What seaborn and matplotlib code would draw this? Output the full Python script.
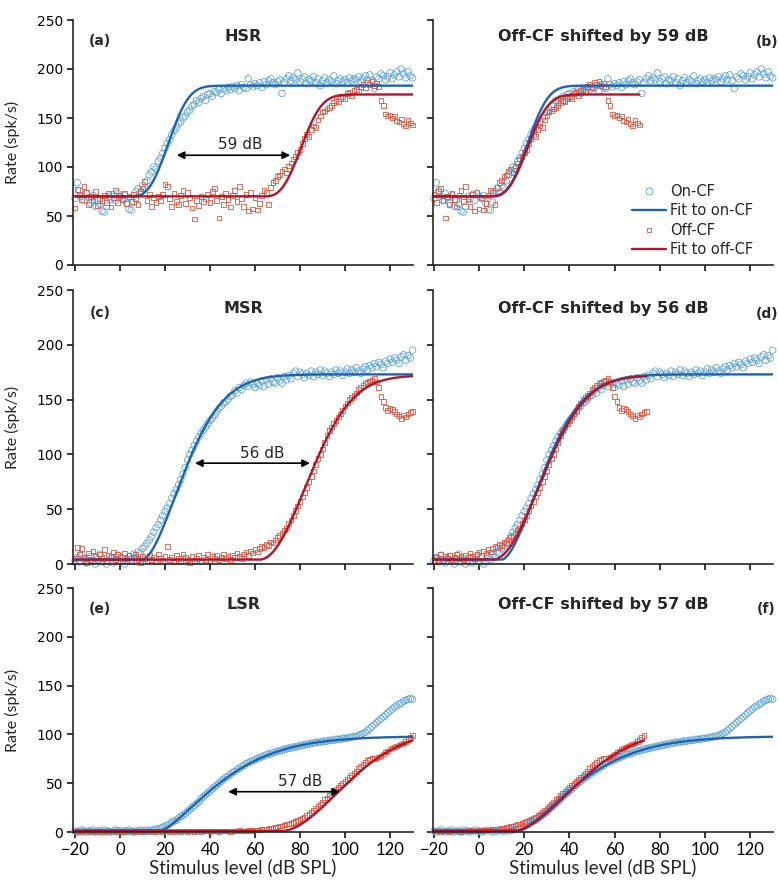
import numpy as np
import pandas as pd
import matplotlib
matplotlib.use("Agg")
import matplotlib.pyplot as plt
import seaborn as sns
from matplotlib.lines import Line2D

# Stimulus levels (dB SPL), 1-dB steps
levels = np.arange(-20, 131)

# ---- measured rate-level data (spikes/s) ----
hsr_on = [
    68, 84, 76, 70, 66, 73, 69, 63, 71, 60,
    66, 62, 55, 54, 60, 70, 67, 72, 66, 73,
    70, 68, 71, 63, 57, 56, 64, 75, 78, 74,
    81, 79, 86, 92, 95, 100, 98, 106, 109, 114,
    119, 124, 128, 133, 137, 140, 144, 146, 150, 152,
    156, 158, 162, 164, 168, 166, 170, 172, 168, 174,
    175, 172, 177, 176, 179, 175, 180, 178, 181, 179,
    182, 180, 183, 178, 184, 181, 180, 190, 184, 182,
    185, 183, 186, 181, 187, 184, 188, 190, 186, 184,
    187, 189, 175, 186, 190, 193, 188, 191, 189, 196,
    187, 190, 192, 185, 189, 188, 192, 186, 190, 183,
    188, 191, 186, 189, 187, 193, 185, 188, 190, 187,
    189, 186, 191, 188, 190, 189, 192, 187, 190, 193,
    189, 194, 188, 180, 192, 190, 195, 193, 189, 192,
    196, 190, 194, 197, 192, 200, 195, 191, 197, 193, 191,
]
hsr_off = [
    58, 77, 72, 67, 80, 74, 62, 70, 66, 75,
    61, 68, 66, 71, 64, 73, 59, 69, 76, 64,
    71, 67, 73, 63, 70, 65, 72, 68, 62, 75,
    78, 85, 66, 72, 60, 69, 64, 70, 66, 72,
    82, 80, 68, 60, 73, 65, 62, 71, 76, 63,
    74, 69, 58, 47, 66, 61, 70, 65, 68, 72,
    64, 75, 78, 66, 48, 70, 62, 73, 67, 59,
    71, 76, 65, 80, 68, 60, 72, 55, 74, 57,
    69, 56, 63, 71, 76, 74, 62, 79, 84, 86,
    90, 92, 96, 98, 94, 101, 104, 108, 111, 115,
    118, 124, 129, 133, 131, 138, 142, 140, 148, 152,
    156, 157, 159, 161, 163, 166, 168, 167, 170, 172,
    170, 175, 176, 173, 178, 179, 177, 182, 184, 181,
    186, 184, 187, 183, 185, 182, 168, 163, 154, 152,
    153, 150, 152, 147, 146, 149, 144, 142, 148, 145, 143,
]
msr_on = [
    3, 6, 2, 8, 4, 1, 5, 7, 3, 0,
    4, 9, 2, 5, 0, 3, 6, 1, 4, 8,
    2, 5, 0, 3, 7, 4, 9, 6, 11, 10,
    14, 16, 19, 22, 25, 29, 33, 36, 40, 44,
    48, 51, 55, 60, 64, 68, 72, 77, 82, 88,
    95, 100, 104, 108, 112, 116, 119, 122, 125, 128,
    131, 133, 136, 139, 142, 144, 147, 148, 150, 153,
    154, 158, 156, 161, 159, 163, 165, 162, 166, 164,
    161, 165, 163, 167, 162, 168, 164, 169, 166, 165,
    170, 167, 165, 171, 168, 172, 169, 174, 176, 171,
    175, 173, 170, 174, 172, 176, 171, 175, 173, 177,
    172, 176, 174, 171, 175, 173, 177, 174, 176, 172,
    175, 178, 174, 177, 175, 179, 176, 174, 178, 180,
    177, 181, 179, 183, 180, 184, 182, 179, 185, 183,
    187, 184, 188, 186, 183, 189, 191, 186, 190, 188, 195,
]
msr_off = [
    5, 15, 9, 14, 6, 1, 10, 4, 12, 7,
    3, 9, 5, 13, 2, 8, 6, 11, 4, 9,
    7, 3, 10, 5, 8, 2, 6, 9, 4, 1,
    7, 5, 3, 8, 4, 6, 2, 9, 5, 3,
    7, 16, 4, 6, 2, 8, 5, 3, 9, 6,
    4, 1, 7, 3, 5, 8, 2, 6, 4, 9,
    3, 7, 5, 8, 4, 6, 9, 5, 7, 4,
    8, 6, 10, 7, 5, 9, 11, 8, 12, 10,
    13, 11, 14, 16, 15, 18, 17, 20, 19, 22,
    24, 26, 28, 31, 33, 37, 40, 44, 49, 53,
    57, 61, 65, 70, 75, 80, 85, 91, 96, 100,
    105, 111, 117, 122, 125, 128, 131, 134, 137, 140,
    144, 147, 150, 152, 154, 156, 159, 161, 163, 165,
    166, 167, 168, 169, 166, 161, 153, 148, 143, 140,
    142, 141, 139, 137, 135, 133, 136, 134, 137, 138, 139,
]
lsr_on = [
    1, 0, 1, 2, 1, 0, 1, 1, 2, 0,
    1, 1, 0, 2, 1, 1, 0, 1, 2, 1,
    1, 0, 1, 1, 2, 1, 0, 1, 1, 2,
    1, 1, 2, 1, 2, 2, 3, 3, 4, 5,
    6, 7, 8, 10, 11, 12, 14, 16, 17, 19,
    21, 23, 25, 27, 29, 31, 34, 36, 38, 40,
    42, 44, 46, 48, 50, 52, 54, 56, 57, 59,
    61, 62, 64, 65, 67, 68, 70, 71, 72, 73,
    74, 75, 76, 77, 78, 79, 80, 80, 81, 82,
    83, 83, 84, 85, 85, 86, 86, 87, 87, 88,
    88, 89, 89, 90, 90, 91, 91, 92, 92, 92,
    93, 93, 93, 94, 94, 94, 95, 95, 95, 96,
    96, 96, 97, 97, 98, 98, 99, 100, 101, 102,
    104, 106, 108, 110, 112, 114, 116, 118, 120, 122,
    124, 126, 128, 129, 131, 132, 134, 135, 136, 137, 136,
]
lsr_off = [
    1, 0, 1, 0, 1, 1, 0, 1, 0, 1,
    0, 1, 1, 0, 1, 0, 1, 1, 0, 1,
    1, 0, 1, 0, 1, 1, 0, 1, 1, 0,
    1, 0, 1, 1, 0, 1, 0, 1, 1, 0,
    1, 1, 0, 1, 0, 1, 1, 0, 1, 1,
    0, 1, 1, 0, 1, 1, 0, 1, 1, 1,
    0, 1, 1, 1, 0, 1, 1, 1, 1, 0,
    1, 1, 1, 2, 1, 1, 1, 2, 1, 2,
    2, 2, 2, 3, 3, 3, 3, 4, 4, 5,
    5, 6, 6, 7, 8, 8, 9, 10, 11, 12,
    13, 14, 15, 17, 18, 20, 22, 24, 26, 28,
    30, 33, 35, 38, 40, 42, 44, 46, 48, 50,
    52, 54, 56, 58, 60, 62, 65, 67, 69, 71,
    73, 74, 75, 75, 76, 77, 78, 80, 82, 83,
    85, 86, 87, 88, 89, 90, 91, 93, 95, 97, 99,
]

# ---- fitted rate-level functions: spont, max, threshold, scale, shape ----
fit_hsr_on = [70, 183, 5, 19.2, 2.8]
fit_hsr_off = [70, 174, 64, 19.2, 2.8]
fit_msr_on = [4, 173, 10, 24.2, 1.7]
fit_msr_off = [4, 172, 62, 28.8, 2.0]
fit_lsr_on = [1.5, 98, 18, 33.8, 1.4]
fit_lsr_off = [1, 105, 72, 37.2, 1.8]

fiber_types = ["HSR", "MSR", "LSR"]
shifts_db = [59, 56, 57]
panel_letters = [("(a)", "(b)"), ("(c)", "(d)"), ("(e)", "(f)")]

on_data = [hsr_on, msr_on, lsr_on]
off_data = [hsr_off, msr_off, lsr_off]
on_fits = [fit_hsr_on, fit_msr_on, fit_lsr_on]
off_fits = [fit_hsr_off, fit_msr_off, fit_lsr_off]

for arr in on_data + off_data:
    assert len(arr) == len(levels)


def rate_fit(x, p):
    spont, rmax, thr, scale, shape = p
    d = np.clip(x - thr, 0, None)
    return spont + (rmax - spont) * (1.0 - np.exp(-(d / scale) ** shape))


# ---- styling ----
sns.set_style("ticks")
plt.rcParams["font.family"] = ["DejaVu Sans"]
plt.rcParams["axes.linewidth"] = 1.2

C_ON_PTS = "#5fa6dc"
C_ON_FIT = "#1f63ad"
C_OFF_PTS = "#e2533f"
C_OFF_FIT = "#b3142b"
LABEL_FONT = ["Lato", "DejaVu Sans"]

W, H = 779, 881
fig = plt.figure(figsize=(W / 100, H / 100), dpi=100)

row_px = [(20, 265), (290, 564), (588, 832)]
col_px = [(73.0, 413.0, -20.9, 130.2), (433.3, 772.7, -20.3, 130.0)]

# arrow (x_left, x_right, y) and label (x, y) for the left panels
arrow_spec = [((25.2, 75.6, 112), (53.3, 122.5)),
              ((33.3, 84.4, 92), (63.0, 101.0)),
              ((48.1, 97.8, 41.3), (80.0, 51.5))]

fine = np.linspace(-20, 130, 601)


def draw_points(ax, x, y, marker, size, color):
    df = pd.DataFrame({"level": x, "rate": y})
    sns.scatterplot(data=df, x="level", y="rate", marker=marker, s=size, ax=ax,
                    legend=False)
    pts = ax.collections[-1]
    pts.set_facecolor("none")
    pts.set_edgecolor(color)
    pts.set_linewidth(0.6)
    pts.set_clip_on(False)


def draw_fit(ax, x, y, color):
    df = pd.DataFrame({"level": x, "rate": y})
    sns.lineplot(data=df, x="level", y="rate", color=color, lw=1.7, ax=ax,
                 legend=False)


axes = []
for r in range(3):
    t, b = row_px[r]
    for c in range(2):
        l, rr, x0, x1 = col_px[c]
        ax = fig.add_axes([l / W, 1 - b / H, (rr - l) / W, (b - t) / H])
        axes.append(ax)
        on_y = np.array(on_data[r], dtype=float)
        off_y = np.array(off_data[r], dtype=float)
        shift = 0 if c == 0 else shifts_db[r]
        off_x = levels - shift
        keep = off_x >= -20

        draw_points(ax, levels, on_y, "o", 22, C_ON_PTS)
        draw_points(ax, off_x[keep], off_y[keep], "s", 11, C_OFF_PTS)

        draw_fit(ax, fine, rate_fit(fine, on_fits[r]), C_ON_FIT)
        off_fine = fine - shift
        kf = off_fine >= -20
        draw_fit(ax, off_fine[kf], rate_fit(fine, off_fits[r])[kf], C_OFF_FIT)

        ax.set_xlim(x0, x1)
        ax.set_ylim(0, 250)
        ax.set_xticks([-20, 0, 20, 40, 60, 80, 100, 120])
        ax.set_yticks([0, 50, 100, 150, 200, 250])
        sns.despine(ax=ax)
        ax.tick_params(direction="out", length=4, width=1.1, labelsize=10,
                       colors="black", pad=3)
        ax.set_xlabel("")
        ax.set_ylabel("")
        if r < 2:
            ax.set_xticklabels([])
        else:
            for lab in ax.get_xticklabels():
                lab.set_family(LABEL_FONT)
                lab.set_fontsize(12)
            ax.set_xlabel("Stimulus level (dB SPL)", fontsize=13.5,
                          family=LABEL_FONT, va="top")
            ax.xaxis.set_label_coords(0.5, -0.108)
        if c == 1:
            ax.set_yticklabels([])
        else:
            ax.set_ylabel("Rate (spk/s)", fontsize=11.5, family=LABEL_FONT)
            ax.yaxis.set_label_coords(-0.156, 0.5)

        if c == 0:
            title = fiber_types[r]
            ax.text(0.08, 0.915, panel_letters[r][0], transform=ax.transAxes,
                    ha="center", va="center", fontsize=10, fontweight="bold")
            (xa, xb, ya), (tx, ty) = arrow_spec[r]
            ax.annotate("", xy=(xb, ya), xytext=(xa, ya),
                        arrowprops=dict(arrowstyle="<|-|>", color="black",
                                        lw=1.2, mutation_scale=11,
                                        shrinkA=0, shrinkB=0))
            ax.text(tx, ty, f"{shifts_db[r]} dB", ha="center", va="center",
                    fontsize=11)
        else:
            title = f"Off-CF shifted by {shifts_db[r]} dB"
            ax.text(0.982, 0.912, panel_letters[r][1], transform=ax.transAxes,
                    ha="center", va="center", fontsize=10, fontweight="bold")
        ax.text(0.5, 0.932, title, transform=ax.transAxes, ha="center",
                va="center", fontsize=11.5, fontweight="bold")

handles = [
    Line2D([], [], ls="none", marker="o", ms=5, mfc="none", mec=C_ON_PTS, mew=0.6),
    Line2D([], [], color=C_ON_FIT, lw=1.7),
    Line2D([], [], ls="none", marker="s", ms=3.4, mfc="none", mec=C_OFF_PTS, mew=0.6),
    Line2D([], [], color=C_OFF_FIT, lw=1.7),
]
labels = ["On-CF", "Fit to on-CF", "Off-CF", "Fit to off-CF"]
fig.legend(handles, labels, loc="upper left", bbox_to_anchor=(632 / W, 1 - 184 / H),
           frameon=False, fontsize=10.5, handlelength=2.3, handletextpad=0.3,
           labelspacing=0.3, borderpad=0, borderaxespad=0)

fig.savefig("out.png", dpi=100)
